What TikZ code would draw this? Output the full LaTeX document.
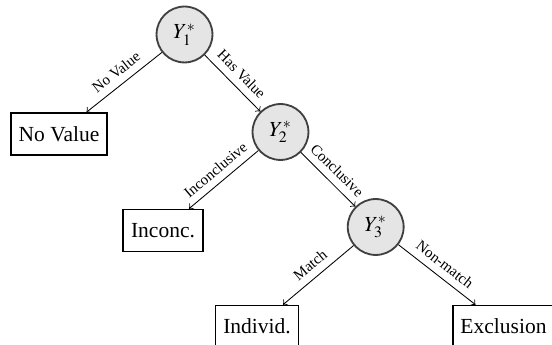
\documentclass[tikz,border=0pt]{standalone}
\usepackage{mathptmx}
\usepackage{fontspec}
\setmainfont{Liberation Serif}
\begin{document}
\begin{tikzpicture}[x=0.465pt,y=-0.465pt,
  decision/.style={circle,draw=black!75,fill=black!10,line width=0.85pt,minimum size=26pt,inner sep=0pt},
  outcome/.style={rectangle,draw=black,line width=0.8pt,minimum height=19.5pt,inner xsep=3.6pt},
  branch/.style={->,line width=0.4pt},
  lbl/.style={midway,sloped,above,font=\scriptsize}]
\useasboundingbox (0,0) rectangle (552,345);
\node[decision] (y1) at (184.5,34.5) {$Y_1^*$};
\node[decision] (y2) at (280.5,132) {$Y_2^*$};
\node[decision] (y3) at (375.7,227) {$Y_3^*$};
\node[outcome] (nv) at (59,134) {No Value};
\node[outcome] (inc) at (163,230.5) {Inconc.};
\node[outcome] (ind) at (257,326.5) {Individ.};
\node[outcome] (exc) at (503.5,326.5) {Exclusion};
\draw[branch] (y1) -- node[lbl] {No Value} (nv);
\draw[branch] (y1) -- node[lbl] {Has Value} (y2);
\draw[branch] (y2) -- node[lbl] {Inconclusive} (inc);
\draw[branch] (y2) -- node[lbl] {Conclusive} (y3);
\draw[branch] (y3) -- node[lbl] {Match} (ind);
\draw[branch] (y3) -- node[lbl] {Non-match} (exc);
\end{tikzpicture}
\end{document}
